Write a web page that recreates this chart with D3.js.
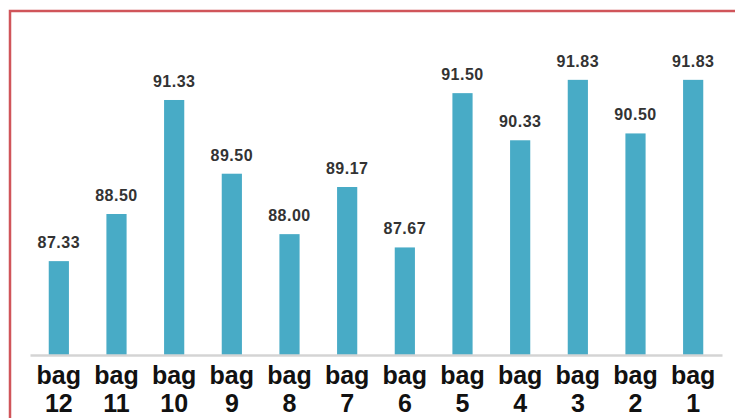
<!DOCTYPE html>
<html><head><meta charset="utf-8">
<script src="https://cdn.jsdelivr.net/npm/d3@7"></script>
<style>
html,body{margin:0;padding:0;background:#fff;}
svg{display:block;}
</style></head>
<body>
<svg id="chart" width="735" height="418"></svg>
<script>
const categories = ["bag 12","bag 11","bag 10","bag 9","bag 8","bag 7","bag 6","bag 5","bag 4","bag 3","bag 2","bag 1"];
const values = [87.33, 88.50, 91.33, 89.50, 88.00, 89.17, 87.67, 91.50, 90.33, 91.83, 90.50, 91.83];
const valueLabels = ["87.33","88.50","91.33","89.50","88.00","89.17","87.67","91.50","90.33","91.83","90.50","91.83"];

const svg = d3.select("#chart");
const W = 735, H = 418;

// red frame
svg.append("rect").attr("x", 10).attr("y", 11).attr("width", W + 20).attr("height", H + 20)
  .attr("fill", "none").attr("stroke", "#D0555A").attr("stroke-width", 2.5);

const x = d3.scaleBand().domain(categories).range([30, 722]).paddingInner(0.65).paddingOuter(0.325);
const y = d3.scaleLinear().domain([85, 92]).range([355, 73]);

const data = categories.map((c, i) => ({c, v: values[i], l: valueLabels[i]}));

svg.append("g").selectAll("rect").data(data).join("rect")
  .attr("x", d => x(d.c)).attr("width", x.bandwidth())
  .attr("y", d => y(d.v)).attr("height", d => y(85) - y(d.v))
  .attr("fill", "#48ABC6");

// baseline axis
const axis = d3.axisBottom(x).tickSize(0).tickFormat("");
const ax = svg.append("g").attr("transform", "translate(0,355)").call(axis);
ax.select(".domain").attr("stroke", "#D4D4D4").attr("stroke-width", 2.5);

// value labels
svg.append("g").selectAll("text").data(data).join("text")
  .attr("x", d => x(d.c) + x.bandwidth() / 2)
  .attr("y", d => y(d.v) - 13)
  .attr("text-anchor", "middle")
  .attr("font-family", "Liberation Sans, Arial, sans-serif")
  .attr("font-weight", "bold").attr("font-size", 16)
  .attr("letter-spacing", 0.5)
  .attr("fill", "#333")
  .text(d => d.l);

// category labels (two lines)
const cl = svg.append("g").selectAll("text").data(data).join("text")
  .attr("x", d => x(d.c) + x.bandwidth() / 2)
  .attr("text-anchor", "middle")
  .attr("font-family", "Liberation Sans, Arial, sans-serif")
  .attr("font-weight", "bold").attr("font-size", 25)
  .attr("fill", "#111");
cl.each(function(d) {
  const parts = d.c.split(" ");
  const t = d3.select(this);
  t.append("tspan").attr("x", x(d.c) + x.bandwidth() / 2).attr("y", 384).text(parts[0]);
  t.append("tspan").attr("x", x(d.c) + x.bandwidth() / 2).attr("y", 412).text(parts[1]);
});
</script>
</body></html>
